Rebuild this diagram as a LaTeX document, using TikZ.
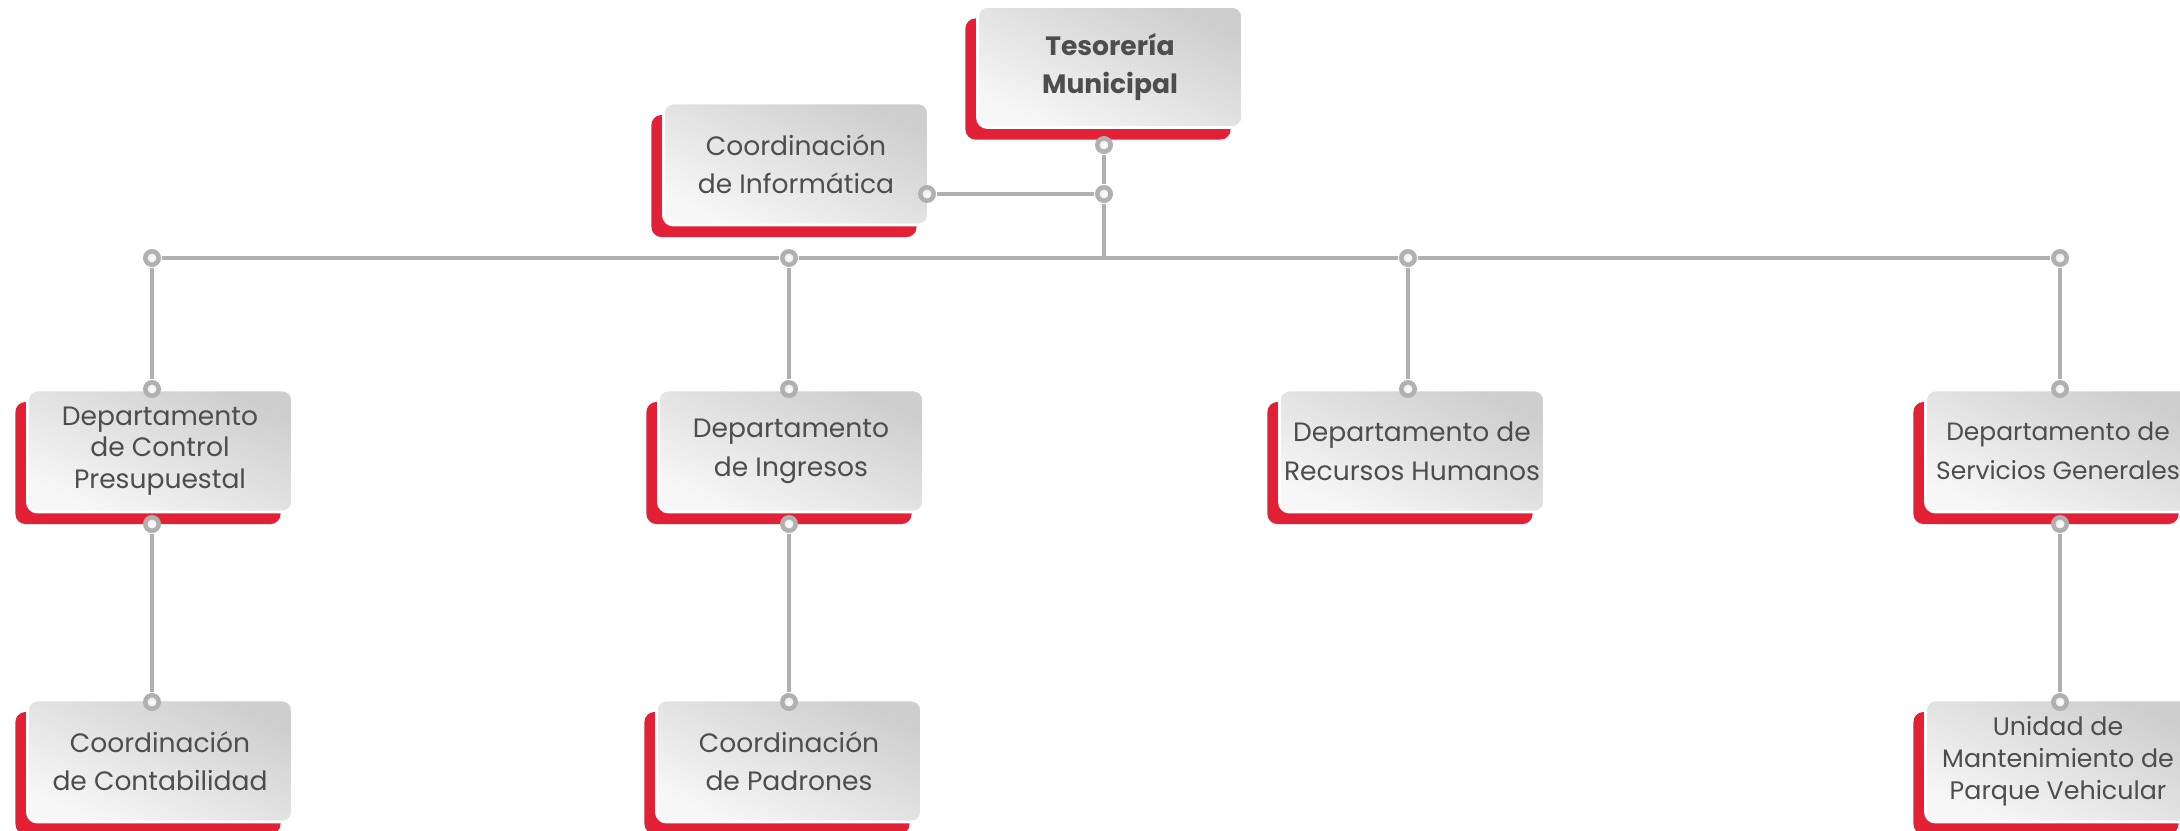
\documentclass[tikz,border=0pt]{standalone}
\usepackage{fontspec}
\setmainfont{Poppins}
\usepackage{xcolor}
\usetikzlibrary{shadows}
\definecolor{tsred}{RGB}{226,32,54}
\definecolor{tsline}{RGB}{176,176,176}
\definecolor{tstext}{RGB}{77,77,77}
\definecolor{tsdark}{RGB}{206,206,206}
\definecolor{tslight}{RGB}{247,247,247}

\begin{document}
\begin{tikzpicture}[x=0.01cm,y=-0.01cm,
		unit/.style={rectangle, rounded corners=0.1cm, draw=white, line width=0.8pt, top color=tsdark, bottom color=tslight, shading angle=-25, minimum width=2.65cm, minimum height=1.22cm, inner sep=0pt, align=center, text=tstext, font=\fontsize{7.55}{11}\selectfont, general shadow={fill=tsred, shadow xshift=-0.12cm, shadow yshift=-0.12cm}},
		tight/.style={font=\fontsize{7.55}{9}\selectfont},
		edge/.style={font=\fontsize{7.1}{11}\selectfont},
		edgetight/.style={font=\fontsize{7.2}{9}\selectfont},
		dot/.style={circle, fill=tsline, minimum size=0.18cm, inner sep=0pt, path picture={\shade[inner color=white, outer color=gray!30] (path picture bounding box.center) circle (0.045cm);}},
		link/.style={draw=tsline, line width=1.1pt}]
	\useasboundingbox (0,0) rectangle (2180,830);

	\node[unit, minimum height=1.21cm, font=\bfseries\fontsize{7.55}{11}\selectfont] (tesoreria) at (1110,67) {Tesorería\\Municipal};
	\node[unit] (informatica) at (796,164) {Coordinación\\de Informática};

	\node[unit, tight] (control) at (160,451) {Departamento\\de Control\\Presupuestal};
	\node[unit] (ingresos) at (791,451) {Departamento\\de Ingresos};
	\node[unit] (recursos) at (1412,451) {Departamento de\\Recursos Humanos};
	\node[unit, edge] (servicios) at (2058,451) {Departamento de\\Servicios Generales};

	\node[unit] (contabilidad) at (160,761) {Coordinación\\de Contabilidad};
	\node[unit] (padrones) at (789,761) {Coordinación\\de Padrones};
	\node[unit, edgetight] (mantenimiento) at (2058,761) {Unidad de\\Mantenimiento de\\Parque Vehicular};

	\node[dot] (tes-out) at (1104,145) {};
	\node[dot] (inf-join) at (1104,194) {};
	\node[dot] (inf-out) at (927,194) {};
	\coordinate (bus) at (1104,258);

	\node[dot] (bus-ctl) at (152,258) {};
	\node[dot] (bus-ing) at (789,258) {};
	\node[dot] (bus-rh) at (1408,258) {};
	\node[dot] (bus-sg) at (2060,258) {};

	\node[dot] (ctl-in) at (152,389) {};
	\node[dot] (ing-in) at (789,389) {};
	\node[dot] (rh-in) at (1408,389) {};
	\node[dot] (sg-in) at (2060,389) {};

	\node[dot] (ctl-out) at (152,524) {};
	\node[dot] (ing-out) at (789,524) {};
	\node[dot] (sg-out) at (2060,524) {};

	\node[dot] (con-in) at (152,702) {};
	\node[dot] (pad-in) at (789,702) {};
	\node[dot] (man-in) at (2060,702) {};

	\draw[link] (tes-out) -- (inf-join) -- (bus);
	\draw[link] (inf-out) -- (inf-join);
	\draw[link] (bus-ctl) -- (bus-ing) -- (bus-rh) -- (bus-sg);
	\draw[link] (bus-ctl) -- (ctl-in);
	\draw[link] (bus-ing) -- (ing-in);
	\draw[link] (bus-rh) -- (rh-in);
	\draw[link] (bus-sg) -- (sg-in);
	\draw[link] (ctl-out) -- (con-in);
	\draw[link] (ing-out) -- (pad-in);
	\draw[link] (sg-out) -- (man-in);
\end{tikzpicture}
\end{document}
